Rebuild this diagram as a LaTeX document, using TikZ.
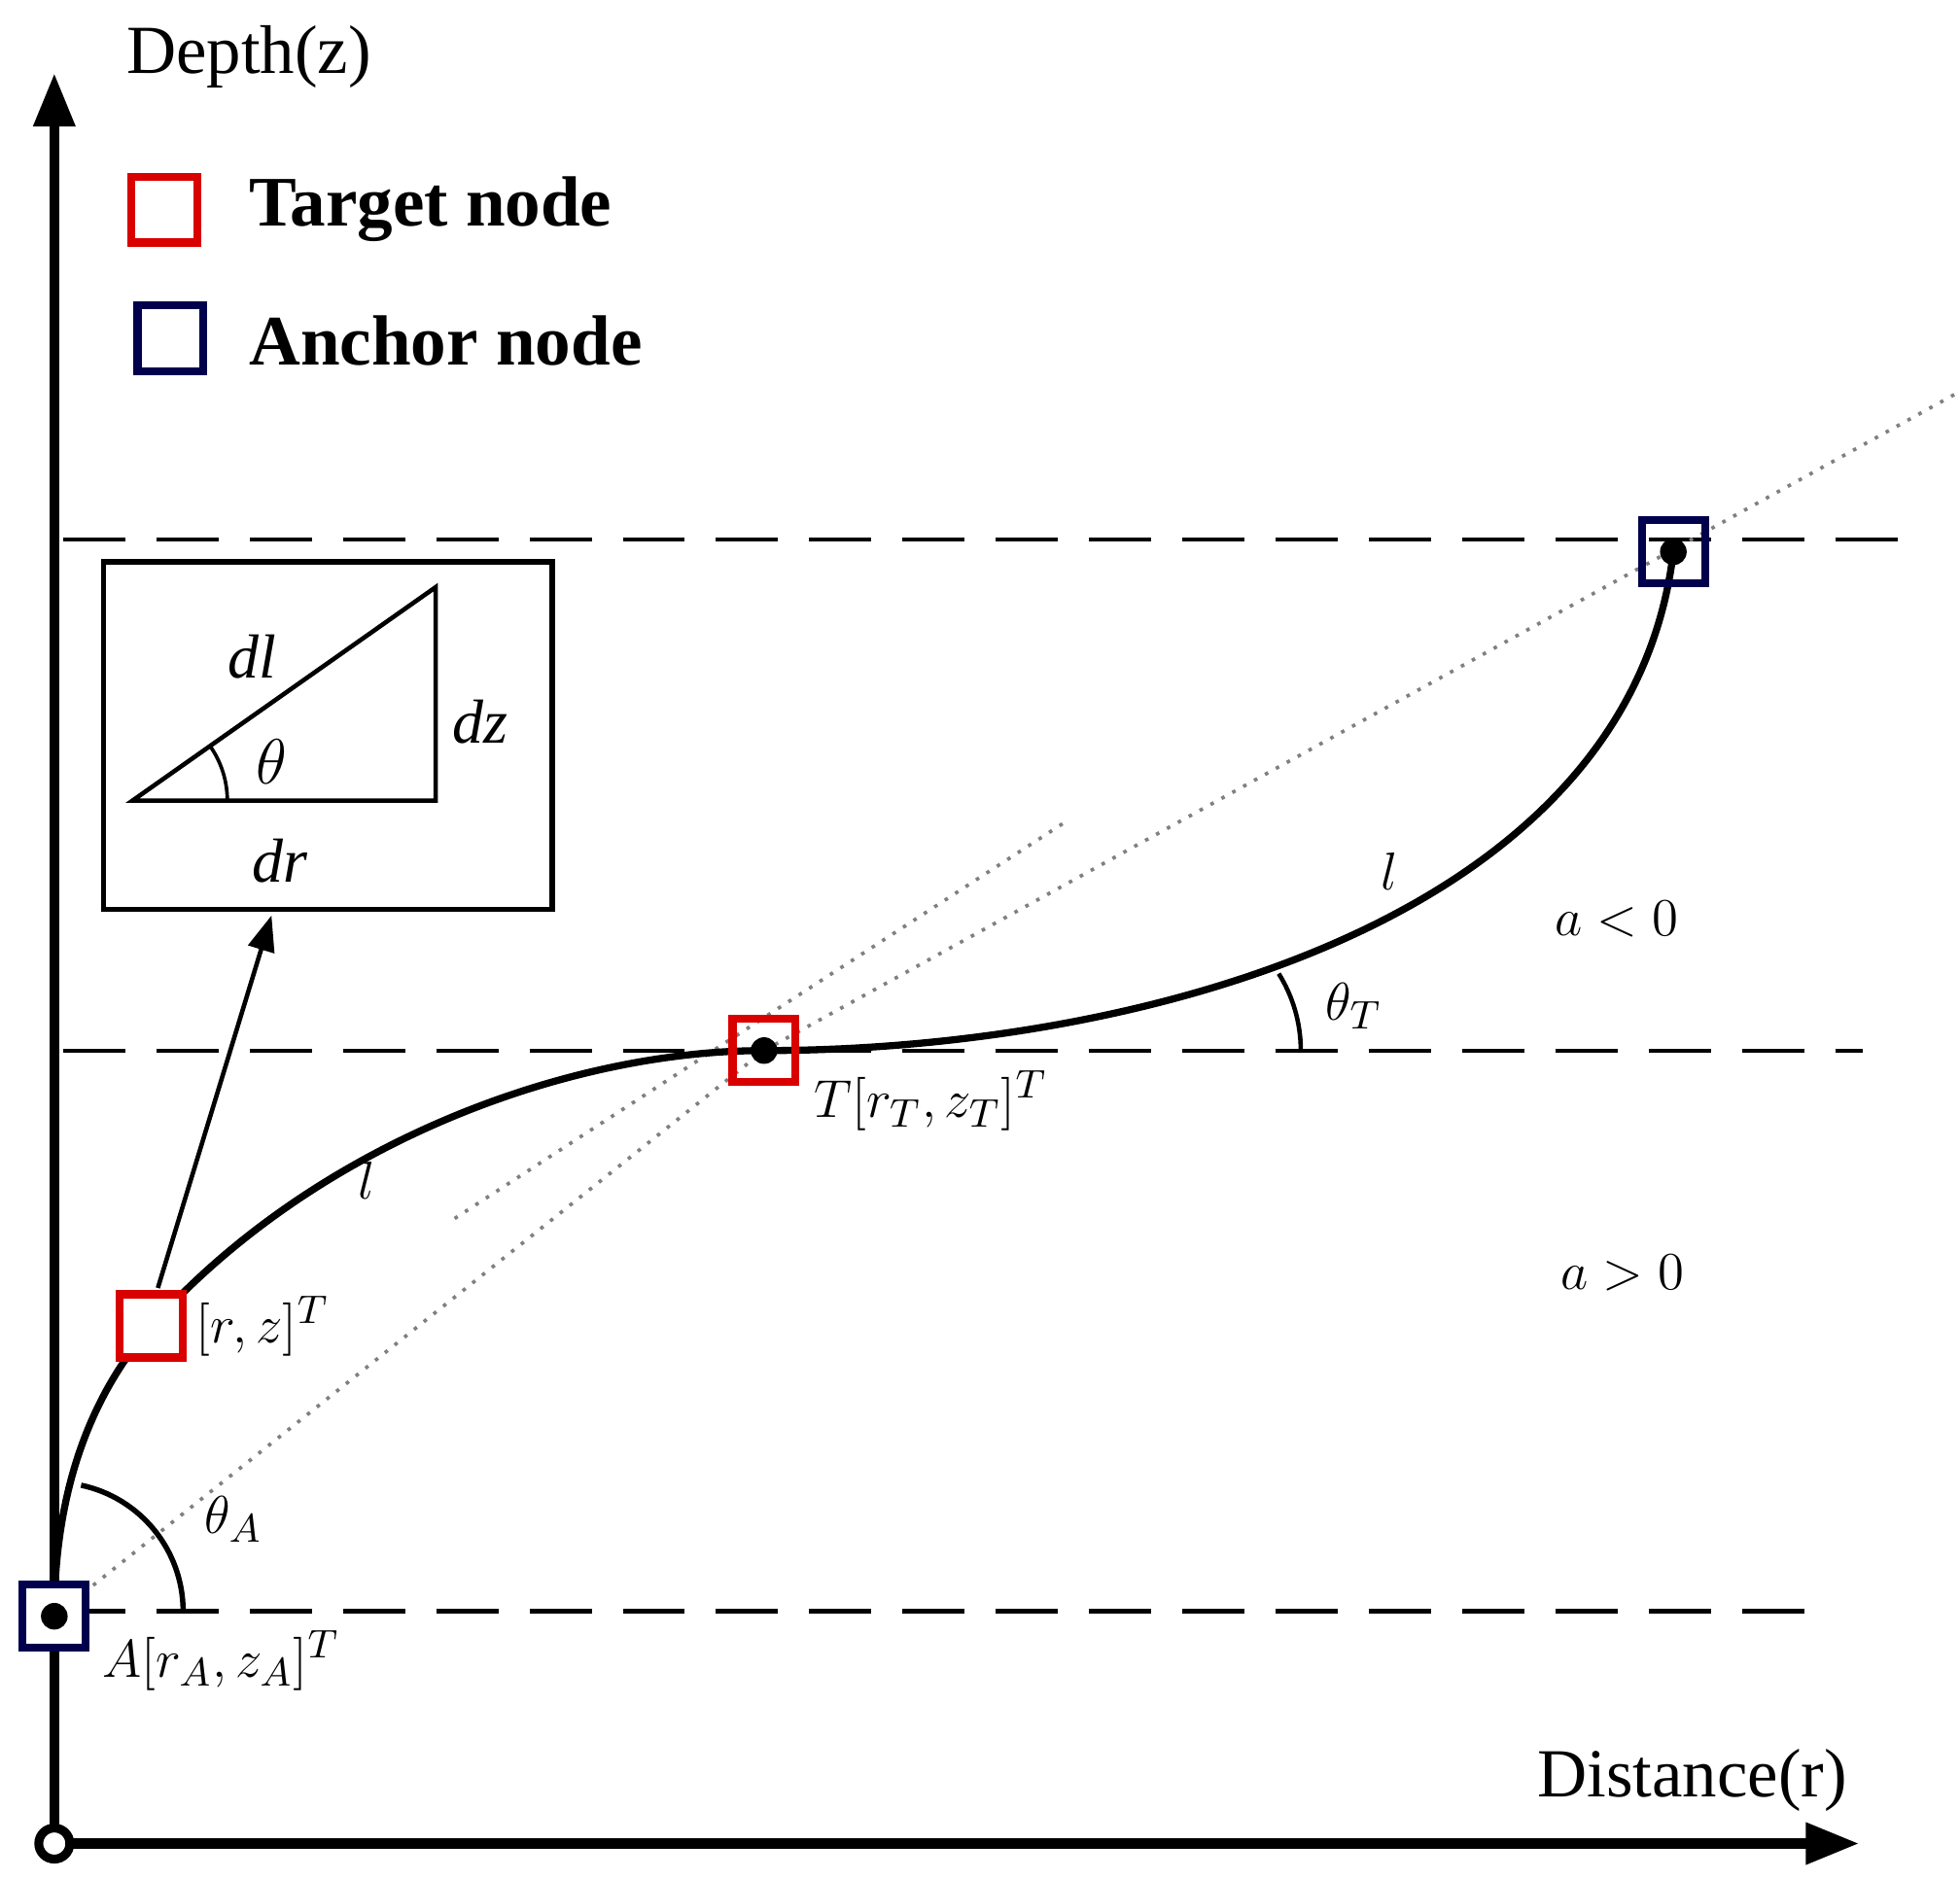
\documentclass[tikz,border=0pt]{standalone}
\usepackage{fontspec}
\setmainfont{Liberation Serif}
\usetikzlibrary{arrows.meta}
\begin{document}
\begin{tikzpicture}[x=0.01cm,y=-0.01cm,
  ax/.style={line width=2.2pt,-{Triangle[length=12pt,width=9pt]}},
  dsh/.style={line width=0.9pt,dash pattern=on 14pt off 7pt},
  dots/.style={line width=0.8pt,dotted,gray},
  tgt/.style={draw=red!85!black,line width=1.8pt,minimum size=0.5cm,inner sep=0pt},
  anc/.style={draw=blue!30!black,line width=1.8pt,minimum size=0.5cm,inner sep=0pt},
  lbl/.style={font=\fontsize{13}{15}\selectfont},
  dot/.style={circle,fill=black,inner sep=0pt,minimum size=6pt}]
\useasboundingbox (0,0) rectangle (1552,1488);
% axes
\coordinate (O) at (43,1460);
\coordinate (Ztop) at (43,58);
\coordinate (Rend) at (1472,1460);
\draw[ax] (O) -- (Ztop);
\draw[ax] (O) -- (Rend);
\draw[line width=2pt,fill=white] (O) circle (3.5pt);
\node[font=\fontsize{15.5}{17}\selectfont] (zl) at (197,45) {Depth(z)};
\node[font=\fontsize{15.5}{17}\selectfont] (rl) at (1340,1410) {Distance(r)};
% legend
\node[tgt,minimum size=0.52cm] (lt) at (130,166) {};
\node[anchor=west,font=\fontsize{16}{18}\selectfont\bfseries] (ltt) at (185,166) {Target node};
\node[anc,minimum size=0.52cm] (la) at (135,268) {};
\node[anchor=west,font=\fontsize{16}{18}\selectfont\bfseries] (lat) at (185,270) {Anchor node};
% dashed levels
\coordinate (d1a) at (50,427); \coordinate (d1b) at (1510,427);
\coordinate (d2a) at (50,832); \coordinate (d2b) at (1475,832);
\coordinate (d3a) at (50,1276); \coordinate (d3b) at (1430,1276);
\draw[dsh] (d1a) -- (d1b);
\draw[dsh] (d2a) -- (d2b);
\draw[dsh] (d3a) -- (d3b);
% inset
\node[draw,line width=1.2pt,minimum width=3.55cm,minimum height=2.75cm,inner sep=0pt] (box) at (259.5,582.5) {};
\coordinate (t1) at (105,634); \coordinate (t2) at (345,634); \coordinate (t3) at (345,465);
\draw[line width=1pt] (t1) -- (t2) -- (t3) -- cycle;
\draw[line width=0.8pt] (180,634) arc[start angle=0,end angle=-35.2,radius=75];
\node[font=\fontsize{14}{16}\selectfont\itshape] (dl) at (200,520) {dl};
\node[font=\fontsize{14}{16}\selectfont\itshape] (dz) at (380,572) {dz};
\node[font=\fontsize{14}{16}\selectfont] (th) at (215,603) {$\theta$};
\node[font=\fontsize{14}{16}\selectfont\itshape] (dr) at (222,682) {dr};
% nodes
\coordinate (A) at (43,1280);
\coordinate (P) at (120,1050);
\coordinate (T) at (605,832);
\coordinate (B) at (1325,437);
% dotted
\coordinate (far) at (1552,310);
\coordinate (q1) at (360,965); \coordinate (q2) at (845,650);
\draw[dots] (A) -- (T);
\draw[dots] (T) -- (far);
\draw[dots] (q1) -- (q2);
% curve
\draw[line width=1.6pt] (A) .. controls (43,1160) and (85,1090) .. (P)
  .. controls (250,905) and (450,832) .. (T)
  .. controls (900,832) and (1290,730) .. (B);
% arrow
\coordinate (ae) at (215,725);
\draw[line width=1pt,-{Triangle[length=8pt,width=6pt]}] (125,1020) -- (ae);
% nodes drawn
\node[anc,fill=white] (An) at (A) {};
\node[dot] at (A) {};
\node[tgt,fill=white] (Pn) at (P) {};
\node[tgt] (Tn) at (T) {};
\node[dot] at (T) {};
\node[anc] (Bn) at (B) {};
\node[dot] at (B) {};
% angles
\draw[line width=1.2pt] (145,1276) arc[start angle=0,end angle=-78,radius=102] ;
\draw[line width=1pt] (1030,832) arc[start angle=0,end angle=-32,radius=115];
% labels
\node[lbl] at (185,1203) {$\theta_A$};
\node[lbl] at (1072,797) {$\theta_T$};
\node[lbl] at (175,1315) {$A[r_A, z_A]^T$};
\node[lbl] at (208,1050) {$[r, z]^T$};
\node[lbl] at (737,872) {$T[r_T, z_T]^T$};
\node[lbl] at (290,935) {$l$};
\node[lbl] at (1100,690) {$l$};
\node[lbl] at (1280,728) {$a<0$};
\node[lbl] at (1285,1008) {$a>0$};
\end{tikzpicture}
\end{document}
